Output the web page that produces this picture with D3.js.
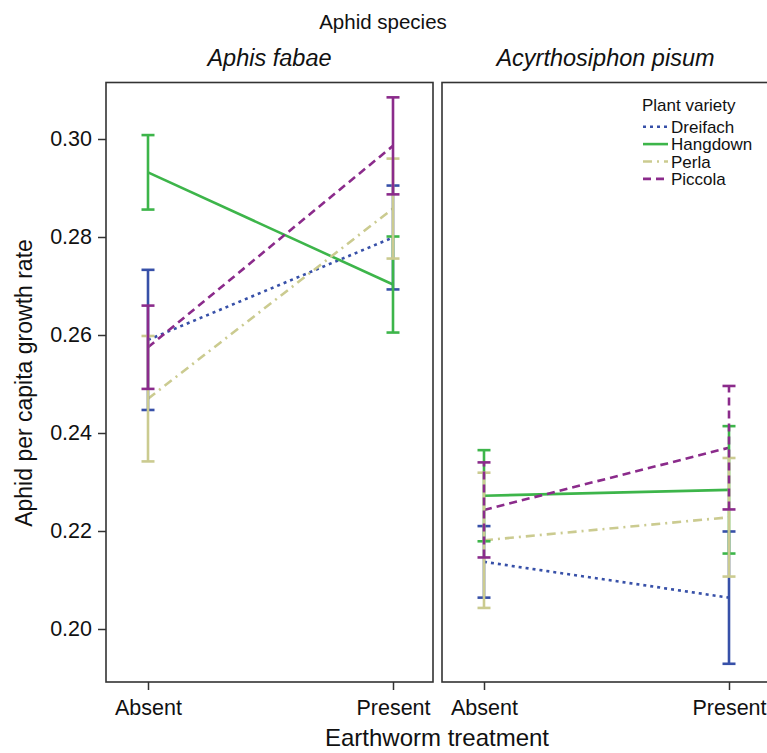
<!DOCTYPE html>
<html>
<head>
<meta charset="utf-8">
<script src="https://cdn.jsdelivr.net/npm/d3@7"></script>
<style>
  html, body { margin: 0; padding: 0; background: #fff; }
  svg { display: block; font-family: "Liberation Sans", Arial, sans-serif; }
</style>
</head>
<body>
<svg id="chart" width="767" height="753"></svg>
<script>
// ---- data ----
const species = ["Aphis fabae", "Acyrthosiphon pisum"];
const treatments = ["Absent", "Present"];
const varieties = ["Dreifach", "Hangdown", "Perla", "Piccola"];
const yTicks = [0.20, 0.22, 0.24, 0.26, 0.28, 0.30];

// means [Absent, Present] per variety, per species
const meanFabae = {
  Dreifach: [0.2590, 0.2799],
  Hangdown: [0.2932, 0.2703],
  Perla:    [0.2470, 0.2858],
  Piccola:  [0.2575, 0.2986]
};
const seFabae = {
  Dreifach: [0.0143, 0.0106],
  Hangdown: [0.0076, 0.0098],
  Perla:    [0.0128, 0.0102],
  Piccola:  [0.0085, 0.0099]
};
const meanPisum = {
  Dreifach: [0.2137, 0.2064],
  Hangdown: [0.2272, 0.2284],
  Perla:    [0.2181, 0.2228],
  Piccola:  [0.2243, 0.2370]
};
const sePisum = {
  Dreifach: [0.0073, 0.0135],
  Hangdown: [0.0093, 0.0130],
  Perla:    [0.0138, 0.0121],
  Piccola:  [0.0097, 0.0126]
};

// ---- styles ----
const colors = { Dreifach: "#3750a8", Hangdown: "#3db54a", Perla: "#cbcb90", Piccola: "#8b2b8b" };
const dashes = { Dreifach: "3,4", Hangdown: null, Perla: "9,5,2,5", Piccola: "8,5" };

const svg = d3.select("#chart");
const panelW = 327, panelTop = 82.5, panelBottom = 682;
const panelLefts = [106, 442];

const y = d3.scaleLinear().domain([0.20, 0.30]).range([629, 139]);

const panels = [
  { name: species[0], mean: meanFabae, se: seFabae },
  { name: species[1], mean: meanPisum, se: sePisum }
];

panels.forEach((p, pi) => {
  const x0 = panelLefts[pi];
  const x = d3.scalePoint().domain(treatments).range([x0 + 42, x0 + panelW - 40]);
  const g = svg.append("g");

  // lines
  varieties.forEach(v => {
    const pts = treatments.map((t, i) => [x(t), y(p.mean[v][i])]);
    g.append("path")
      .attr("d", d3.line()(pts))
      .attr("fill", "none")
      .attr("stroke", colors[v])
      .attr("stroke-width", 2.6)
      .attr("stroke-dasharray", dashes[v]);
  });

  // error bars
  varieties.forEach(v => {
    treatments.forEach((t, i) => {
      const cx = x(t);
      const lo = y(p.mean[v][i] - p.se[v][i]);
      const hi = y(p.mean[v][i] + p.se[v][i]);
      const dash = (pi === 1 && v === "Piccola") ? "8,5" : null;
      const eb = g.append("g")
        .attr("stroke", colors[v])
        .attr("stroke-width", 2.6)
        .attr("fill", "none");
      eb.append("line").attr("x1", cx).attr("x2", cx).attr("y1", lo).attr("y2", hi)
        .attr("stroke-dasharray", dash);
      eb.append("line").attr("x1", cx - 6.5).attr("x2", cx + 6.5).attr("y1", lo).attr("y2", lo);
      eb.append("line").attr("x1", cx - 6.5).attr("x2", cx + 6.5).attr("y1", hi).attr("y2", hi);
    });
  });

  // frame
  svg.append("rect")
    .attr("x", x0).attr("y", panelTop)
    .attr("width", panelW).attr("height", panelBottom - panelTop)
    .attr("fill", "none").attr("stroke", "#333").attr("stroke-width", 1.6);

  // x axis
  const xa = svg.append("g").attr("transform", `translate(0,${panelBottom})`)
    .call(d3.axisBottom(x).tickSize(8).tickSizeOuter(0));
  xa.select(".domain").remove();
  xa.selectAll(".tick line").attr("stroke", "#333").attr("stroke-width", 1.5);
  xa.selectAll(".tick text").attr("font-size", 21.5).attr("fill", "#111")
    .attr("font-family", "Liberation Sans, Arial, sans-serif").attr("dy", "1.0em");

  // panel title
  svg.append("text")
    .attr("x", x0 + panelW / 2).attr("y", 66)
    .attr("text-anchor", "middle").attr("font-size", 23.5)
    .attr("font-style", "italic").attr("fill", "#111")
    .text(p.name);
});

// y axis
const ya = svg.append("g").attr("transform", `translate(${panelLefts[0]},0)`)
  .call(d3.axisLeft(y).tickValues(yTicks).tickFormat(d3.format(".2f")).tickSize(8).tickSizeOuter(0));
ya.select(".domain").remove();
ya.selectAll(".tick line").attr("stroke", "#333").attr("stroke-width", 1.5);
ya.selectAll(".tick text").attr("font-size", 21.5).attr("fill", "#111")
  .attr("font-family", "Liberation Sans, Arial, sans-serif").attr("x", -14);

// titles
svg.append("text").attr("x", 383).attr("y", 29).attr("text-anchor", "middle")
  .attr("font-size", 20.5).attr("fill", "#111").text("Aphid species");
svg.append("text").attr("x", 437).attr("y", 746).attr("text-anchor", "middle")
  .attr("font-size", 24).attr("fill", "#111").text("Earthworm treatment");
svg.append("text").attr("transform", "translate(32,383) rotate(-90)")
  .attr("text-anchor", "middle").attr("font-size", 23).attr("fill", "#111")
  .text("Aphid per capita growth rate");

// legend
const lg = svg.append("g");
lg.append("text").attr("x", 642).attr("y", 111).attr("font-size", 17).attr("fill", "#111")
  .text("Plant variety");
varieties.forEach((v, i) => {
  const ly = 126.7 + i * 17.4;
  lg.append("line").attr("x1", 643).attr("x2", 668).attr("y1", ly).attr("y2", ly)
    .attr("stroke", colors[v]).attr("stroke-width", 2.6)
    .attr("stroke-dasharray", dashes[v]);
  lg.append("text").attr("x", 671).attr("y", ly + 6).attr("font-size", 17).attr("fill", "#111")
    .text(v);
});
</script>
</body>
</html>
